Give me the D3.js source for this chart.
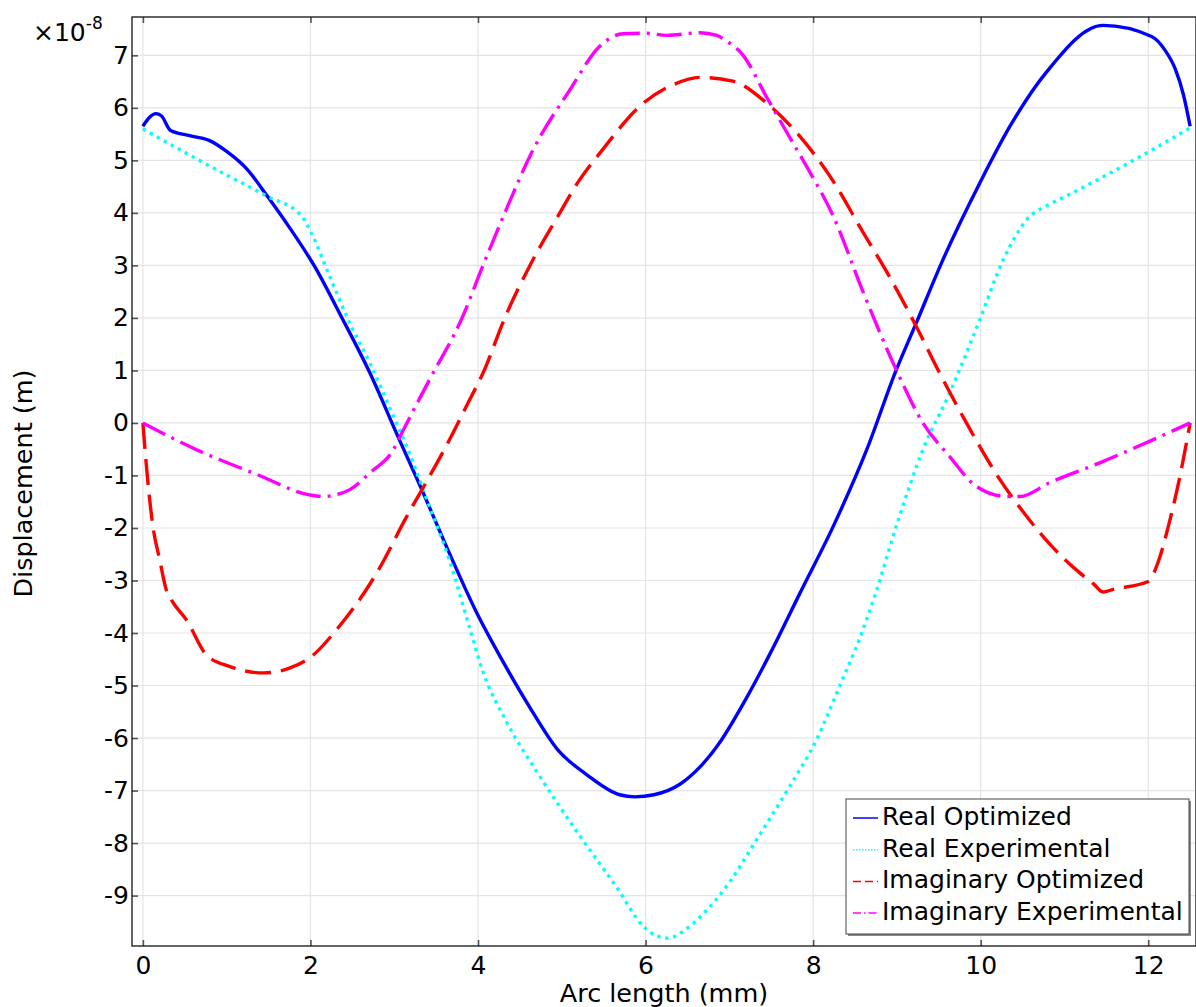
<!DOCTYPE html>
<html>
<head>
<meta charset="utf-8">
<script src="https://cdn.jsdelivr.net/npm/d3@7"></script>
<style>
  body { margin: 0; background: #fff; }
  svg { display: block; font-family: "DejaVu Sans", sans-serif; }
</style>
</head>
<body>
<div id="chart"></div>
<script>
// Values (x in mm, y in units of 1e-8 m)
const realOptX = [0, 0.08, 0.155, 0.22, 0.33, 0.56, 0.79, 1.0, 1.25, 1.48, 1.75, 2.05, 2.35, 2.71, 3.05, 3.31, 3.65, 3.98, 4.30, 4.62, 4.95, 5.3, 5.69, 5.87, 6.1, 6.41, 6.65, 6.9, 7.2, 7.5, 7.84, 8.24, 8.64, 8.99, 9.23, 9.55, 9.99, 10.35, 10.78, 11.46, 12.04, 12.2, 12.32, 12.42, 12.5];
const realOptY = [5.65, 5.82, 5.89, 5.85, 5.57, 5.47, 5.38, 5.17, 4.82, 4.33, 3.72, 2.98, 2.08, 0.95, -0.28, -1.2, -2.45, -3.6, -4.55, -5.42, -6.22, -6.7, -7.08, -7.12, -7.08, -6.88, -6.55, -6.05, -5.25, -4.35, -3.25, -1.97, -0.51, 1.0, 1.9, 3.11, 4.57, 5.65, 6.67, 7.57, 7.36, 7.1, 6.75, 6.25, 5.65];

const realExpX = [0, 0.48, 1.0, 1.48, 1.89, 2.0, 2.23, 2.47, 2.71, 2.99, 3.15, 3.39, 3.66, 3.90, 4.06, 4.34, 4.73, 5.25, 5.65, 5.97, 6.12, 6.27, 6.45, 6.63, 7.0, 7.3, 7.69, 8.05, 8.32, 8.58, 8.72, 9.03, 9.31, 9.63, 9.99, 10.27, 10.55, 10.82, 11.02, 11.98, 12.5];
const realExpY = [5.6, 5.17, 4.72, 4.32, 3.95, 3.65, 2.79, 1.9, 1.14, 0.13, -0.45, -1.46, -2.62, -3.9, -4.74, -5.69, -6.71, -7.94, -8.83, -9.58, -9.76, -9.81, -9.68, -9.44, -8.75, -8.0, -7.0, -6.0, -5.0, -4.0, -3.37, -1.78, -0.51, 0.57, 1.97, 3.11, 3.87, 4.16, 4.32, 5.14, 5.62];

const imagOptX = [0, 0.03, 0.12, 0.2, 0.28, 0.34, 0.52, 0.76, 1.04, 1.44, 1.75, 2.01, 2.31, 2.79, 3.15, 3.42, 3.62, 3.90, 4.06, 4.32, 4.62, 4.94, 5.2, 5.49, 5.93, 6.33, 6.65, 7.04, 7.44, 7.84, 8.2, 8.6, 8.91, 9.23, 9.51, 9.83, 10.23, 10.55, 10.82, 11.18, 11.35, 11.46, 11.58, 12.0, 12.12, 12.26, 12.37, 12.5];
const imagOptY = [0, -0.6, -1.97, -2.6, -3.18, -3.37, -3.75, -4.42, -4.64, -4.76, -4.67, -4.45, -3.94, -2.86, -1.78, -1.02, -0.44, 0.44, 0.95, 2.0, 3.0, 3.9, 4.6, 5.21, 6.03, 6.44, 6.58, 6.51, 6.10, 5.46, 4.70, 3.62, 2.79, 1.84, 0.95, 0, -1.08, -1.78, -2.3, -2.85, -3.07, -3.22, -3.17, -3.02, -2.64, -1.84, -1.08, 0];

const imagExpX = [0, 0.64, 1.36, 1.99, 2.15, 2.3, 2.47, 2.71, 2.99, 3.11, 3.42, 3.81, 4.06, 4.32, 4.66, 5.1, 5.45, 5.73, 6.0, 6.25, 6.65, 6.85, 6.97, 7.16, 7.44, 7.76, 7.92, 8.24, 8.6, 8.99, 9.31, 9.63, 9.95, 10.31, 10.47, 10.82, 11.42, 12.5];
const imagExpY = [0, -0.51, -0.98, -1.37, -1.40, -1.37, -1.27, -0.95, -0.51, -0.13, 0.82, 2.0, 3.0, 4.0, 5.21, 6.35, 7.17, 7.41, 7.42, 7.38, 7.43, 7.38, 7.27, 7.01, 6.22, 5.33, 4.89, 3.94, 2.48, 1.02, 0, -0.64, -1.21, -1.40, -1.40, -1.14, -0.76, 0];

const xTicks = [0, 2, 4, 6, 8, 10, 12];
const yTicks = [-9, -8, -7, -6, -5, -4, -3, -2, -1, 0, 1, 2, 3, 4, 5, 6, 7];

const seriesNames = ["Real Optimized", "Real Experimental", "Imaginary Optimized", "Imaginary Experimental"];
const seriesColors = ["#0000ff", "#00ffff", "#ff0000", "#ff00ff"];
const seriesDash = [null, "3.3,4.7", "26,10", "25,7,3,7"];
const legendDash = [null, "1.5,1.5", "8,4", "8,3,1.5,3"];

const W = 1196, H = 1007;
const pLeft = 132, pTop = 17, pRight = 1196, pBottom = 946;

const svg = d3.select("#chart").append("svg")
  .attr("width", W)
  .attr("height", H);

const x = d3.scaleLinear().domain([-0.13, 12.57]).range([pLeft, pRight]);
const y = d3.scaleLinear().domain([-9.96, 7.73]).range([pBottom, pTop]);

// grid
svg.append("g")
  .attr("stroke", "#e4e4e4")
  .attr("stroke-width", 1.2)
  .selectAll("line")
  .data(yTicks)
  .join("line")
  .attr("x1", pLeft).attr("x2", pRight)
  .attr("y1", d => y(d)).attr("y2", d => y(d));

svg.append("g")
  .attr("stroke", "#e4e4e4")
  .attr("stroke-width", 1.2)
  .selectAll("line")
  .data(xTicks)
  .join("line")
  .attr("y1", pTop).attr("y2", pBottom)
  .attr("x1", d => x(d)).attr("x2", d => x(d));

// axes with inward ticks
const yAxis = svg.append("g")
  .attr("transform", `translate(${pLeft},0)`)
  .call(d3.axisLeft(y).tickValues(yTicks).tickSize(-6).tickPadding(3)
    .tickFormat(d => String(d)));
const xAxis = svg.append("g")
  .attr("transform", `translate(0,${pBottom})`)
  .call(d3.axisBottom(x).tickValues(xTicks).tickSize(-6).tickPadding(10));
const xTop = svg.append("g")
  .attr("transform", `translate(0,${pTop})`)
  .call(d3.axisTop(x).tickValues(xTicks).tickSize(-6).tickFormat(""));

[yAxis, xAxis, xTop].forEach(g => {
  g.select(".domain").remove();
  g.selectAll(".tick line").attr("stroke", "#555").attr("stroke-width", 1.6);
  g.selectAll(".tick text")
    .attr("fill", "#000")
    .style("font-size", "25px")
    .style("font-family", "'DejaVu Sans', sans-serif");
});

// frame
svg.append("rect")
  .attr("x", pLeft).attr("y", pTop)
  .attr("width", pRight - pLeft).attr("height", pBottom - pTop)
  .attr("fill", "none")
  .attr("stroke", "#111")
  .attr("stroke-width", 1.3);

// curves
const line = d3.line()
  .x(d => x(d[0]))
  .y(d => y(d[1]))
  .curve(d3.curveMonotoneX);

const series = [
  d3.zip(realOptX, realOptY),
  d3.zip(realExpX, realExpY),
  d3.zip(imagOptX, imagOptY),
  d3.zip(imagExpX, imagExpY)
];

svg.append("g")
  .selectAll("path")
  .data(series)
  .join("path")
  .attr("fill", "none")
  .attr("stroke", (d, i) => seriesColors[i])
  .attr("stroke-width", 3.4)
  .attr("stroke-linejoin", "round")
  .attr("stroke-dasharray", (d, i) => seriesDash[i])
  .attr("d", line);

// multiplier label
const mult = svg.append("text")
  .attr("x", 33).attr("y", 41)
  .style("font-size", "25px")
  .attr("fill", "#000");
mult.append("tspan").text("×10");
mult.append("tspan").attr("dy", -12).style("font-size", "17px").text("-8");

// axis titles
svg.append("text")
  .attr("x", (pLeft + pRight) / 2)
  .attr("y", 1002)
  .attr("text-anchor", "middle")
  .style("font-size", "25.5px")
  .text("Arc length (mm)");

svg.append("text")
  .attr("transform", `translate(32,${(pTop + pBottom) / 2 + 2}) rotate(-90)`)
  .attr("text-anchor", "middle")
  .style("font-size", "25.5px")
  .text("Displacement (m)");

// legend
const lx = 846, ly = 799, lw = 343, lh = 135;
svg.append("rect")
  .attr("x", lx + 2).attr("y", ly + 2)
  .attr("width", lw).attr("height", lh)
  .attr("fill", "#888");
svg.append("rect")
  .attr("x", lx).attr("y", ly)
  .attr("width", lw).attr("height", lh)
  .attr("fill", "#fff")
  .attr("stroke", "#444")
  .attr("stroke-width", 1);

const leg = svg.append("g")
  .selectAll("g")
  .data(seriesNames)
  .join("g")
  .attr("transform", (d, i) => `translate(${lx},${ly + 26 + i * 31.7})`);

leg.append("line")
  .attr("x1", 7).attr("x2", 32)
  .attr("y1", -7).attr("y2", -7)
  .attr("stroke", (d, i) => seriesColors[i])
  .attr("stroke-width", 1.5)
  .attr("stroke-dasharray", (d, i) => legendDash[i]);

leg.append("text")
  .attr("x", 36)
  .attr("y", 0)
  .style("font-size", "25px")
  .text(d => d);
</script>
</body>
</html>
